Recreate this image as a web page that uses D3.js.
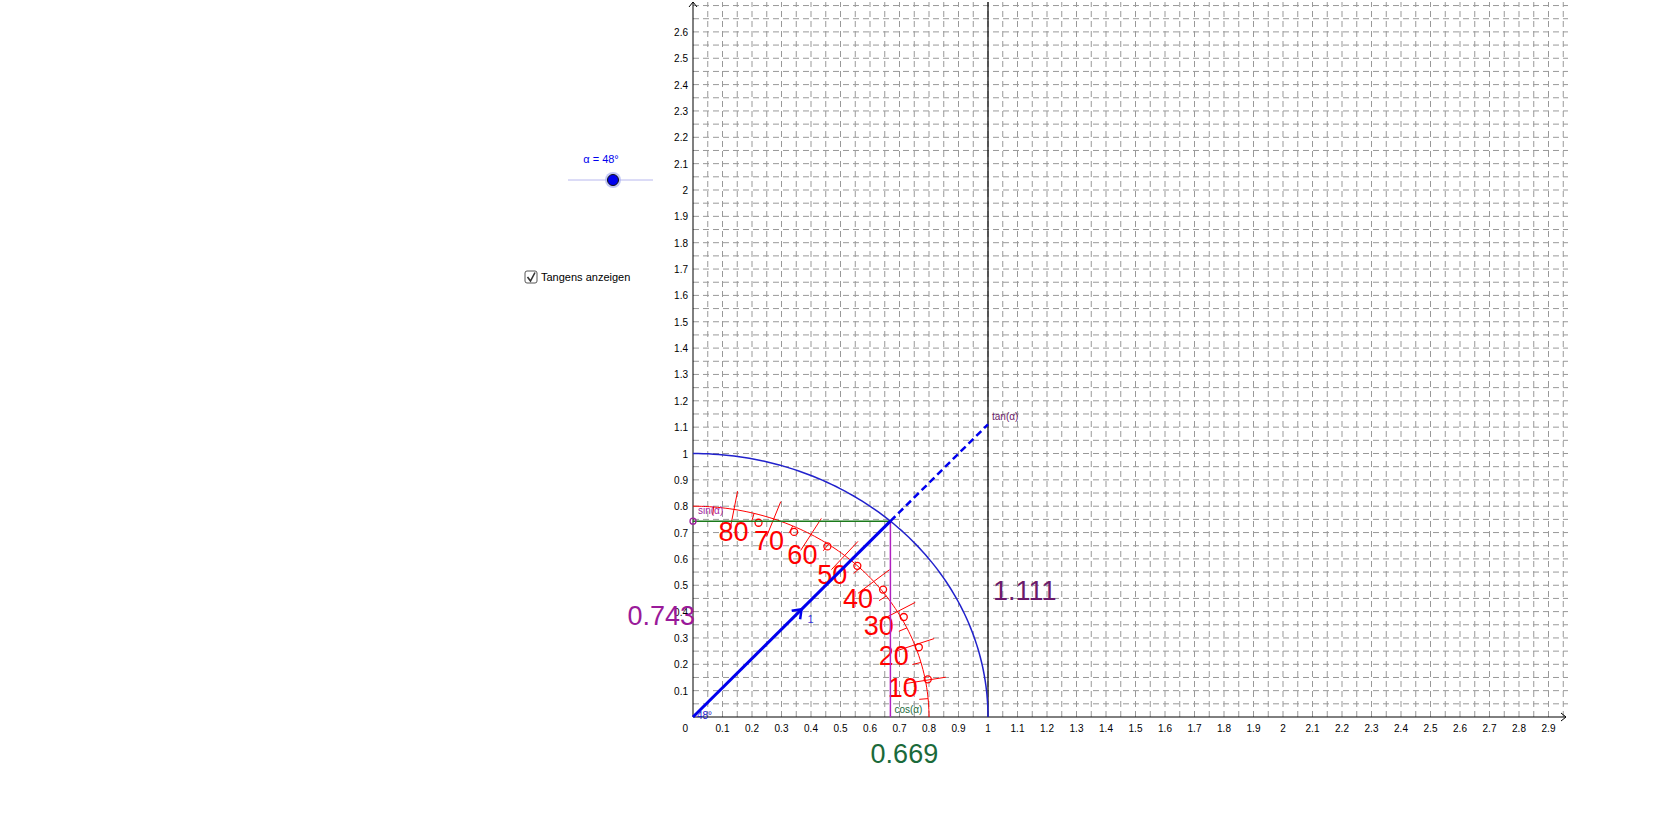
<!DOCTYPE html>
<html><head><meta charset="utf-8">
<script src="https://cdn.jsdelivr.net/npm/d3@7"></script>
<style>body{margin:0;background:#fff}svg{display:block;font-family:"Liberation Sans",Arial,sans-serif}</style>
</head><body><svg id="c" width="1680" height="840"></svg>
<script>
const alphaDeg = 48;
const xTicks = d3.range(1,30).map(i=>+(i/10).toFixed(1));
const yTicks = d3.range(1,27).map(i=>+(i/10).toFixed(1));
const protractorAngles = [10,20,30,40,50,60,70,80];
const minorAngles = [5,15,25,35,45,55,65,75,85];
const valueLabels = {sin:"0.743", cos:"0.669", tan:"1.111"};

const svg = d3.select("#c");
const x = d3.scaleLinear().domain([0,1]).range([693,988]);
const y = d3.scaleLinear().domain([0,1]).range([717,453.5]);
const xMax = x.invert(1568), yMax = y.invert(2);
const a = alphaDeg*Math.PI/180, c = Math.cos(a), s = Math.sin(a), t = Math.tan(a);

const g = svg.append("g").attr("stroke","#999").attr("stroke-width",1).attr("stroke-dasharray","6,4");
d3.range(1, Math.floor(xMax*20)+1).forEach(i=>{const X=x(i/20);g.append("line").attr("x1",X).attr("x2",X).attr("y1",y(0)).attr("y2",2);});
d3.range(1, Math.floor(yMax*20)+1).forEach(i=>{const Y=y(i/20);g.append("line").attr("x1",x(0)).attr("x2",1568).attr("y1",Y).attr("y2",Y);});

svg.append("line").attr("x1",x(0)).attr("x2",1566).attr("y1",y(0)).attr("y2",y(0)).attr("stroke","#000");
svg.append("path").attr("d",`M1561,${y(0)-4}L1566,${y(0)}L1561,${y(0)+4}`).attr("fill","none").attr("stroke","#000");
svg.append("line").attr("x1",x(0)).attr("x2",x(0)).attr("y1",y(0)).attr("y2",2).attr("stroke","#000");
svg.append("path").attr("d",`M${x(0)-4},7L${x(0)},2L${x(0)+4},7`).attr("fill","none").attr("stroke","#000");
xTicks.forEach(v=>svg.append("text").attr("x",x(v)).attr("y",y(0)+15).attr("text-anchor","middle").attr("font-size",10).text(v));
yTicks.forEach(v=>svg.append("text").attr("x",x(0)-5).attr("y",y(v)+4).attr("text-anchor","end").attr("font-size",10).text(v));
svg.append("text").attr("x",x(0)-5).attr("y",y(0)+15).attr("text-anchor","end").attr("font-size",10).text("0");
svg.append("line").attr("x1",x(1)).attr("x2",x(1)).attr("y1",y(0)).attr("y2",2).attr("stroke","#000").attr("stroke-width",1.2);

const arc = (r)=>d3.line()(d3.range(0,91).map(d=>[x(r*Math.cos(d*Math.PI/180)), y(r*Math.sin(d*Math.PI/180))]));
svg.append("path").attr("d",arc(1)).attr("fill","none").attr("stroke","#2222cc").attr("stroke-width",1.5);

const P=(r,d)=>[x(r*Math.cos(d*Math.PI/180)), y(r*Math.sin(d*Math.PI/180))];
svg.append("path").attr("d",arc(0.8)).attr("fill","none").attr("stroke","red").attr("stroke-width",1);
protractorAngles.forEach(d=>{
  const p1=P(0.73,d),p2=P(0.87,d);
  svg.append("line").attr("x1",p1[0]).attr("y1",p1[1]).attr("x2",p2[0]).attr("y2",p2[1]).attr("stroke","red");
  const L=P(0.72,d-1);
  svg.append("text").attr("x",L[0]).attr("y",L[1]+10).attr("text-anchor","middle").attr("font-size",27).attr("fill","red").text(d);
  svg.append("circle").attr("cx",L[0]+25).attr("cy",L[1]-8).attr("r",3.5).attr("fill","none").attr("stroke","red").attr("stroke-width",1.3);
});
minorAngles.forEach(d=>{const p1=P(0.77,d),p2=P(0.8,d);
  svg.append("line").attr("x1",p1[0]).attr("y1",p1[1]).attr("x2",p2[0]).attr("y2",p2[1]).attr("stroke","red");});

svg.append("line").attr("x1",x(0)).attr("x2",x(c)).attr("y1",y(s)).attr("y2",y(s)).attr("stroke","#1a7a1a").attr("stroke-width",1.5);
svg.append("line").attr("x1",x(c)).attr("x2",x(c)).attr("y1",y(0)).attr("y2",y(s)).attr("stroke","#b020c0").attr("stroke-width",1.5);
svg.append("circle").attr("cx",x(0)).attr("cy",y(s)).attr("r",3).attr("fill","none").attr("stroke","#a020a0").attr("stroke-width",1.3);
svg.append("line").attr("x1",x(c)).attr("y1",y(s)).attr("x2",x(1)).attr("y2",y(t)).attr("stroke","#0000ee").attr("stroke-width",2.5).attr("stroke-dasharray","7,4");
svg.append("line").attr("x1",x(0)).attr("y1",y(0)).attr("x2",x(c)).attr("y2",y(s)).attr("stroke","#0000ee").attr("stroke-width",3);
const mx=x(c*0.55), my=y(s*0.55);
const ang=Math.atan2(y(s)-y(0), x(c)-x(0));
svg.append("path").attr("d","M-8,-6L0,0L-8,6").attr("transform",`translate(${mx},${my}) rotate(${ang*180/Math.PI})`).attr("fill","none").attr("stroke","#0000ee").attr("stroke-width",2.5);
svg.append("text").attr("x",mx+6).attr("y",my+14).attr("font-size",11).attr("fill","#3333dd").text("1");
svg.append("text").attr("x",x(0)+4).attr("y",y(0)+2).attr("font-size",10).attr("fill","#2222cc").text(alphaDeg+"°");

svg.append("text").attr("x",x(0)+5).attr("y",y(0.77)).attr("font-size",10).attr("fill","#a020a0").text("sin(α)");
svg.append("text").attr("x",x(c)+4).attr("y",y(0)-4).attr("font-size",10).attr("fill","#1a6a3a").text("cos(α)");
svg.append("text").attr("x",x(1)+4).attr("y",y(t)-4).attr("font-size",10).attr("fill","#6a1a6a").text("tan(α)");
svg.append("text").attr("x",x(0)+2).attr("y",y(0.35)).attr("text-anchor","end").attr("font-size",27).attr("fill","#9a1a9a").text(valueLabels.sin);
svg.append("text").attr("x",x(c)+14).attr("y",y(0)+46).attr("text-anchor","middle").attr("font-size",27).attr("fill","#1a6a3a").text(valueLabels.cos);
svg.append("text").attr("x",x(1)+5).attr("y",y(0.48)+9).attr("font-size",27).attr("fill","#6a1a6a").text(valueLabels.tan);

svg.append("line").attr("x1",568).attr("x2",653).attr("y1",180).attr("y2",180).attr("stroke","#b8b8ee").attr("stroke-width",1);
svg.append("circle").attr("cx",613).attr("cy",180).attr("r",8).attr("fill","#aab0f0").attr("opacity",0.7);
svg.append("circle").attr("cx",613).attr("cy",180).attr("r",5.5).attr("fill","#0000ee").attr("stroke","#111").attr("stroke-width",1);
svg.append("text").attr("x",601).attr("y",163).attr("text-anchor","middle").attr("font-size",11).attr("fill","#0000ee").text("α = "+alphaDeg+"°");
svg.append("rect").attr("x",525).attr("y",271).attr("width",12).attr("height",12).attr("rx",2).attr("fill","#fff").attr("stroke","#555");
svg.append("path").attr("d","M527.5,277L530.5,281L535,272.5").attr("fill","none").attr("stroke","#333").attr("stroke-width",1.6);
svg.append("text").attr("x",541).attr("y",281).attr("font-size",11).attr("fill","#000").text("Tangens anzeigen");
</script></body></html>
